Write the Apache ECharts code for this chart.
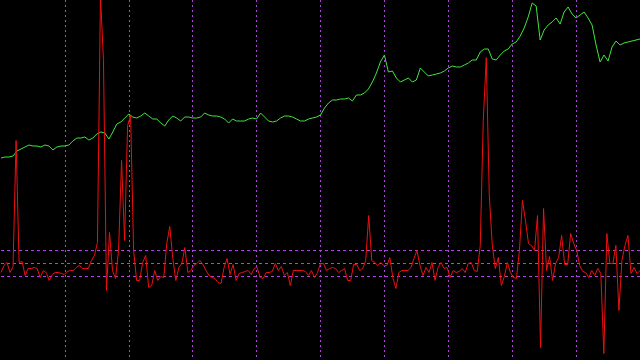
<!DOCTYPE html>
<html>
<head>
<meta charset="utf-8">
<script src="https://cdn.jsdelivr.net/npm/echarts@6/dist/echarts.min.js"></script>
<style>
html,body{margin:0;padding:0;background:#000;}
#chart{width:640px;height:360px;}
</style>
</head>
<body>
<div id="chart"></div>
<script>
// Green series (price-like), one value per step
var greenValues = [
202,203,203,204,209,211,213,215,214,214,
213,215,214,210,213,214,214,215,219,222,
222,223,220,222,226,228,227,221,228,236,
238,242,246,243,242,244,247,244,241,241,
237,234,240,244,242,239,243,243,242,242,
243,247,245,244,244,243,241,237,241,239,
239,239,241,242,241,247,243,239,238,239,
242,244,244,243,241,239,239,241,242,243,
245,252,257,260,260,261,261,262,259,265,
265,267,271,278,287,298,305,288,289,282,
278,280,282,278,280,292,288,284,285,286,
287,289,292,294,293,293,295,297,300,300,
308,311,311,301,300,305,309,311,316,318,
324,332,343,357,354,320,330,335,338,342,
336,348,353,346,342,345,348,342,335,315,
298,305,299,313,319,315,317,318,319,320,
321
];

// Red series (oscillator), one value per step
var redValues = [
-9,-2,1,-9,-3,123,1,2,-12,-5,
-5,-4,-5,-14,-7,-9,-17,-11,-9,-9,
-10,-11,-8,-7,-7,-4,-2,-5,-5,-5,
3,8,21,268,203,-27,31,-7,-15,13,
103,23,138,148,13,-17,-17,1,8,-24,
-22,-7,-17,-13,-14,20,37,5,-17,-4,
0,16,-9,-7,-2,0,3,-1,-7,-12,
-14,-15,-19,-20,-4,5,-11,-1,-17,-10,
-9,-8,-7,-11,-5,-4,-14,-15,-9,-9,
-8,0,-7,-3,-12,-9,-22,-7,-7,-7,
-7,-8,-12,-7,-14,-9,0,0,-7,-5,
-4,-5,-9,-7,-5,-17,-17,-1,-1,-7,
-5,3,48,3,1,-2,1,-2,-2,6,
-14,-25,-9,-7,-7,-7,-4,5,13,-2,
-12,-4,-9,1,-17,-4,1,-5,-4,-14,
-7,-9,-8,-5,-9,0,1,-7,-8,18,
143,206,68,18,-5,6,-22,-13,1,-9,
-14,-15,13,63,43,20,18,13,48,-84,
55,-7,7,-17,0,6,28,-1,-1,30,
20,13,-2,-8,-9,-14,-7,-12,-5,-10,
-90,30,0,0,18,-47,3,18,28,-10,
-4,-10,-7
];

// Reference levels of the oscillator
var redLevels = [13, 0, -13];

var gridColor = '#b040e0';

var chart = echarts.init(document.getElementById('chart'), null, {renderer: 'canvas'});
chart.setOption({
  backgroundColor: '#000000',
  animation: false,
  grid: {left: 1, right: 0, top: 0, bottom: 0, containLabel: false},
  xAxis: [
    {
      type: 'value', min: 0, max: greenValues.length - 1, interval: 16,
      axisLine: {show: false}, axisTick: {show: false}, axisLabel: {show: false},
      splitLine: {show: true, showMinLine: false, showMaxLine: false,
        lineStyle: {color: gridColor, width: 1, type: [2, 3]}}
    },
    {
      type: 'value', min: 0, max: redValues.length - 1,
      axisLine: {show: false}, axisTick: {show: false}, axisLabel: {show: false},
      splitLine: {show: false}
    }
  ],
  yAxis: [
    {
      type: 'value', min: 0, max: 360,
      axisLine: {show: false}, axisTick: {show: false}, axisLabel: {show: false},
      splitLine: {show: false}
    },
    {
      type: 'value', min: -96.5, max: 263.5,
      axisLine: {show: false}, axisTick: {show: false}, axisLabel: {show: false},
      splitLine: {show: false}
    }
  ],
  series: [
    {
      type: 'line', xAxisIndex: 0, yAxisIndex: 0,
      data: greenValues.map(function (v, i) { return [i, v]; }),
      showSymbol: false, symbol: 'none',
      lineStyle: {color: '#3ee63e', width: 1},
      z: 3
    },
    {
      type: 'line', xAxisIndex: 1, yAxisIndex: 1,
      data: redValues.map(function (v, i) { return [i, v]; }),
      showSymbol: false, symbol: 'none', clip: true,
      lineStyle: {color: '#ee1010', width: 1},
      z: 4,
      markLine: {
        silent: true, symbol: ['none', 'none'], label: {show: false},
        lineStyle: {color: gridColor, width: 1, type: [3, 3]},
        data: redLevels.map(function (v) { return {yAxis: v}; }),
        z: 1
      }
    }
  ]
});
</script>
</body>
</html>
